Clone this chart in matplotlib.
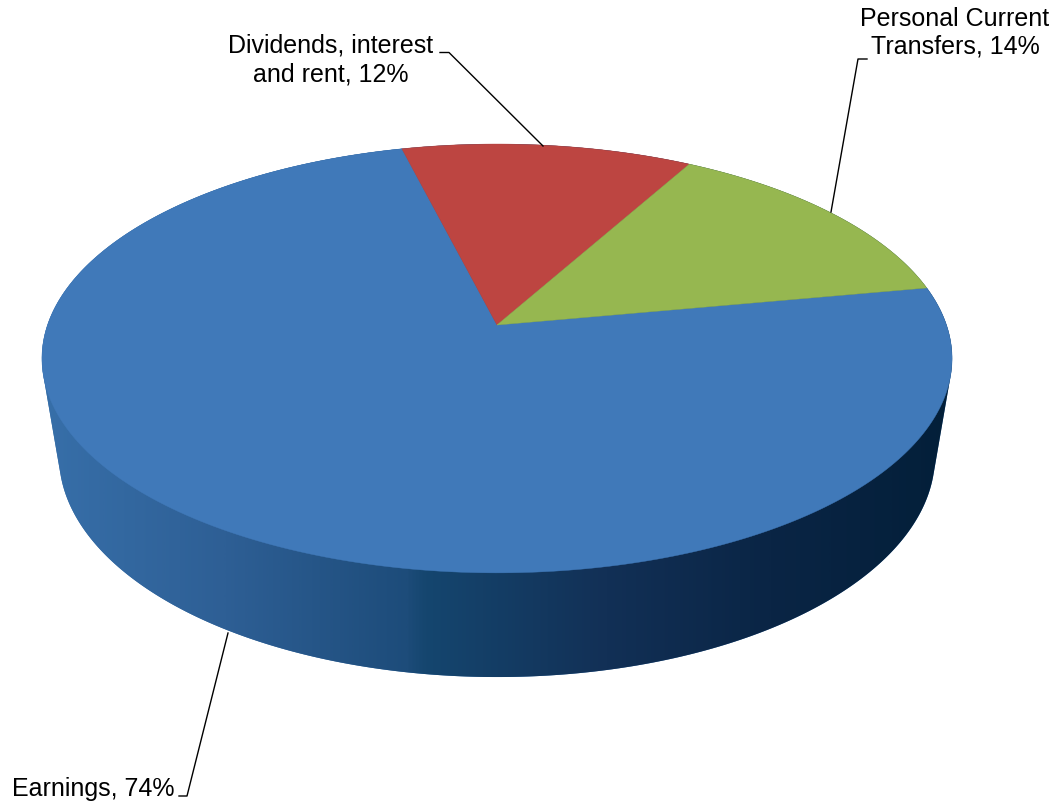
import numpy as np
import matplotlib.pyplot as plt
from matplotlib.patches import Polygon
from matplotlib.colors import LinearSegmentedColormap

plt.rcParams['font.family'] = ['Liberation Sans', 'DejaVu Sans']

# personal income by source, percent
labels = ["Earnings", "Dividends, interest\nand rent", "Personal Current\nTransfers"]
shares = [74, 12, 14]
colors = ["#4079b9", "#bd4541", "#96b750"]
start_angle = 79.5  # degrees, clockwise from 12 o'clock

# side wall shading, left to right
side_stops = [(0.00, "#376fa9"), (0.20, "#2e5f95"), (0.40, "#1d4c7a"),
              (0.42, "#15466f"), (0.62, "#123056"), (0.80, "#0a2545"),
              (1.00, "#031f39")]

# label text position (baseline of first line), line step and leader lines
label_pos = [(12, 796, 'left'), (331, 53, 'center'), (955, 26.5, 'center')]
line_step = [0, 28.5, 27]
leaders = [[(179, 796), (187, 796), (228, 633)],
           [(440, 52.5), (449, 52.5), (543, 146)],
           [(867, 59), (858, 59), (831, 212)]]

# perspective disc
CX, CY = 497.0, 325.0
A, B = 449.5, 209.2
P = 0.156
THICK, SHRINK = 101.3, 0.038


def top_xy(theta):
    t = np.radians(theta)
    u, v = np.sin(t), np.cos(t)
    w = 1 + P * v
    return CX + A * u / w, CY - B * v / w


def bottom_xy(theta):
    t = np.radians(theta)
    u, v = np.sin(t), np.cos(t)
    w = 1 + P * v + SHRINK
    return CX + A * u / w, CY + (THICK - B * v) / w


def hull(pts):
    pts = sorted(set(map(tuple, pts)))

    def cross(o, a, b):
        return (a[0] - o[0]) * (b[1] - o[1]) - (a[1] - o[1]) * (b[0] - o[0])
    lower, upper = [], []
    for p in pts:
        while len(lower) >= 2 and cross(lower[-2], lower[-1], p) <= 0:
            lower.pop()
        lower.append(p)
    for p in reversed(pts):
        while len(upper) >= 2 and cross(upper[-2], upper[-1], p) <= 0:
            upper.pop()
        upper.append(p)
    return np.array(lower[:-1] + upper[:-1])


fig = plt.figure(figsize=(10.63, 8.05), dpi=100)
ax = fig.add_axes([0, 0, 1, 1])
ax.set_xlim(0, 1063)
ax.set_ylim(805, 0)
ax.axis('off')

# side wall: outline of both discs, filled with a horizontal gradient
th = np.linspace(0, 360, 721)
tx, ty = top_xy(th)
bx, by = bottom_xy(th)
outline = hull(np.column_stack([np.r_[tx, bx], np.r_[ty, by]]))
xmin, xmax = outline[:, 0].min(), outline[:, 0].max()
ymin, ymax = outline[:, 1].min(), outline[:, 1].max()
cmap = LinearSegmentedColormap.from_list("side", side_stops)
side = Polygon(outline, closed=True, facecolor=side_stops[0][1], edgecolor='none')
ax.add_patch(side)
grad = ax.imshow(np.linspace(0, 1, 512)[None, :], cmap=cmap, aspect='auto',
                 extent=(xmin, xmax, ymax, ymin), interpolation='bilinear', zorder=1)
grad.set_clip_path(side)

# top face slices
bounds = start_angle + np.r_[0, np.cumsum(shares)] * 3.6
for i, col in enumerate(colors):
    a = np.linspace(bounds[i], bounds[i + 1], 300)
    sx, sy = top_xy(a)
    verts = np.column_stack([np.r_[CX, sx], np.r_[CY, sy]])
    ax.add_patch(Polygon(verts, closed=True, facecolor=col, edgecolor=col,
                         linewidth=0.3, zorder=2))

# labels with leader lines
for name, val, (x, y, ha), step, lead in zip(labels, shares, label_pos, line_step, leaders):
    lines = ("%s, %d%%" % (name, val)).split("\n")
    for k, line in enumerate(lines):
        ax.text(x, y + k * step, line, fontsize=18, ha=ha, va='baseline', color='black', zorder=4)
    lx, ly = zip(*lead)
    ax.plot(lx, ly, color='black', linewidth=1.0, zorder=3)

fig.savefig("out.png", dpi=100, facecolor='white')
